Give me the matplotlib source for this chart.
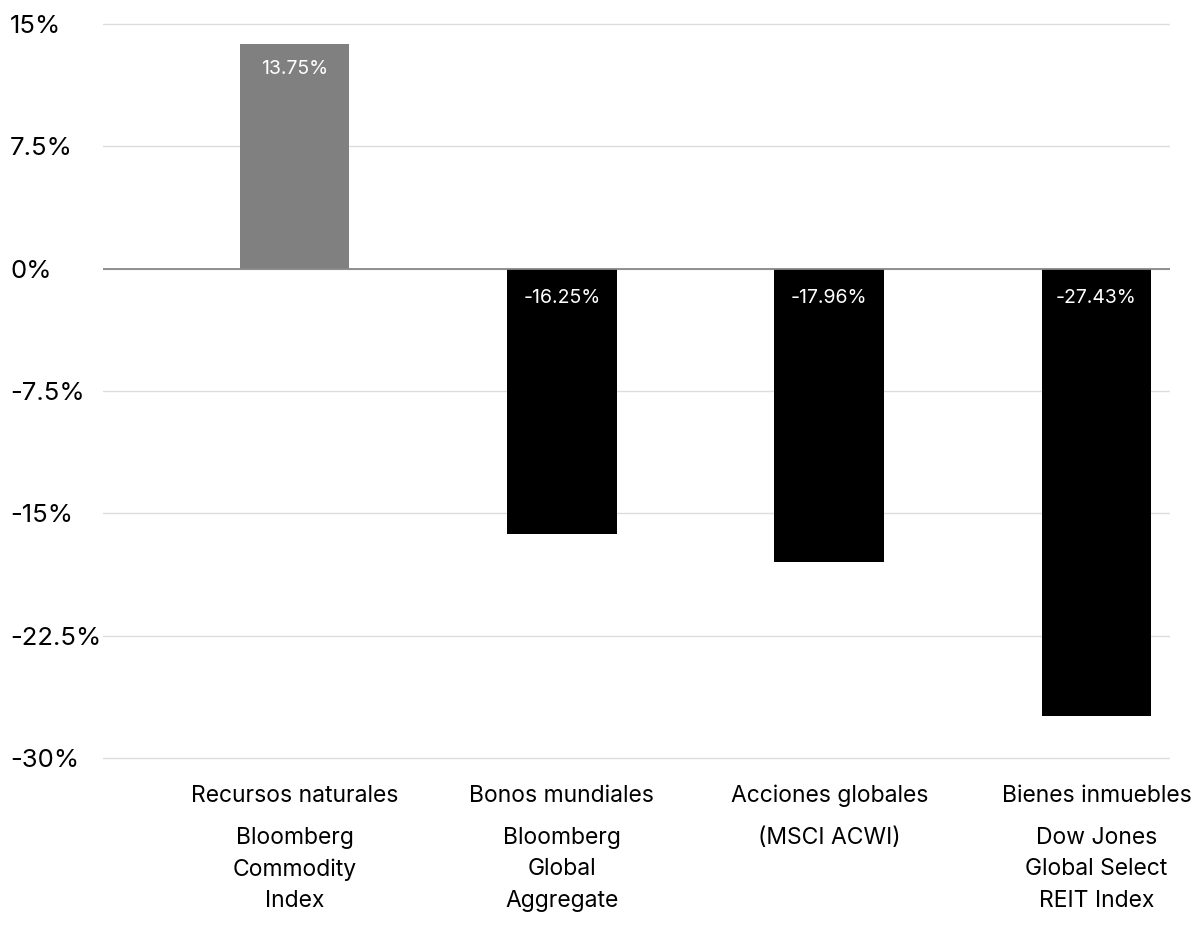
import matplotlib.pyplot as plt
from matplotlib.ticker import FuncFormatter

# Rendimientos 2022 por clase de activo
categories = ["Recursos naturales", "Bonos mundiales", "Acciones globales", "Bienes inmuebles"]
indices = ["Bloomberg\nCommodity\nIndex", "Bloomberg\nGlobal\nAggregate", "(MSCI ACWI)",
           "Dow Jones\nGlobal Select\nREIT Index"]
returns = [13.75, -16.25, -17.96, -27.43]
y_ticks = [15, 7.5, 0, -7.5, -15, -22.5, -30]


def pct_formatter(x, pos):
    return f"{x:g}%"


def main():
    plt.rcParams["font.family"] = ["Inter", "DejaVu Sans"]
    fig = plt.figure(figsize=(12, 9.46), dpi=100)
    ax = fig.add_axes([103 / 1200, 1 - 760 / 946, (1170 - 103) / 1200, (760 - 22) / 946])

    x = list(range(len(categories)))
    colors = ["#808080" if v > 0 else "#000000" for v in returns]
    ax.bar(x, returns, width=0.41, color=colors, zorder=2)

    ax.set_ylim(-30.12, 15.12)
    ax.set_xlim(-0.717, 3.275)
    ax.set_yticks(y_ticks)
    ax.yaxis.set_major_formatter(FuncFormatter(pct_formatter))
    ax.set_xticks([])
    ax.grid(axis="y", color="#dddddd", linewidth=1, zorder=0)
    ax.axhline(0, color="#888888", linewidth=1.3, zorder=3)
    for s in ax.spines.values():
        s.set_visible(False)
    ax.tick_params(axis="y", length=0, pad=93 * 0.72, labelsize=18.5)
    for lbl in ax.get_yticklabels():
        lbl.set_horizontalalignment("left")

    # valores dentro de cada barra, cerca del extremo que parte de cero
    for i, v in enumerate(returns):
        if v > 0:
            ax.annotate(f"{v:.2f}%", xy=(i, v), xytext=(0, -25),
                        textcoords="offset pixels", ha="center", va="center",
                        color="white", fontsize=14, zorder=4)
        else:
            ax.annotate(f"{v:.2f}%", xy=(i, 0), xytext=(0, -29),
                        textcoords="offset pixels", ha="center", va="center",
                        color="white", fontsize=14, zorder=4)

    # etiquetas de categoría e índice
    trans = ax.get_xaxis_transform()
    for i in x:
        ax.annotate(categories[i], xy=(i, 0), xycoords=trans, xytext=(0, -36),
                    textcoords="offset pixels", ha="center", va="center", fontsize=16.5)
        ax.annotate(indices[i], xy=(i, 0), xycoords=trans, xytext=(0, -67),
                    textcoords="offset pixels", ha="center", va="top", fontsize=16.5,
                    linespacing=1.55)

    fig.savefig("out.png", dpi=100)


if __name__ == "__main__":
    main()
